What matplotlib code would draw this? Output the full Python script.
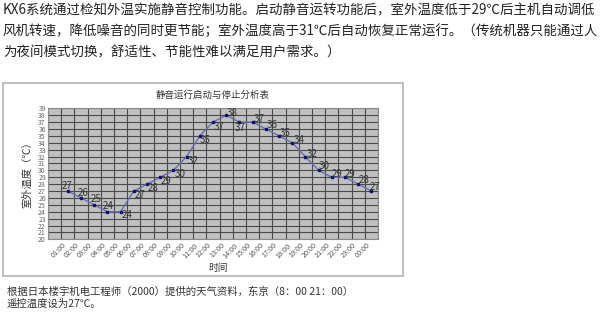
import matplotlib
matplotlib.use("Agg")
import matplotlib.pyplot as plt
from matplotlib.patches import Rectangle
import numpy as np

plt.rcParams['font.family'] = ['Noto Sans CJK SC', 'DejaVu Sans']

# hourly outdoor temperature (Tokyo)
hours = ["01:00", "02:00", "03:00", "04:00", "05:00", "06:00", "07:00", "08:00",
         "09:00", "10:00", "11:00", "12:00", "13:00", "14:00", "15:00", "16:00",
         "17:00", "18:00", "19:00", "20:00", "21:00", "22:00", "23:00", "00:00"]
temps = [27, 26, 25, 24, 24, 27, 28, 29, 30, 32, 35, 37, 38, 37, 37, 36,
         35, 34, 32, 30, 29, 29, 28, 27]
y_ticks = list(range(20, 40))

# where each value label sits relative to its point (pixels, right/up)
label_dx = [-1, 2, 2, 1, 6, 6, 6, 6, 6.5, 6.5, 5, 6, 6, 1, 7, 6, 6, 7, 7, 6, 5, 5, 6, 4]
label_dy = [5, 5, 6, 6, -3.5, -3.5, -4, -4, -3.5, -4, -4.3, -4.5, 2, -5.7, 2.7, 4,
            3, 2.7, 2.7, 4, 3.7, 3.7, 4, 4]

W, H = 602, 313
fig = plt.figure(figsize=(W / 100, H / 100), dpi=100)

intro = [
    "KX6系统通过检知外温实施静音控制功能。启动静音运转功能后，室外温度低于29℃后主机自动调低",
    "风机转速，降低噪音的同时更节能；室外温度高于31℃后自动恢复正常运行。（传统机器只能通过人",
    "为夜间模式切换，舒适性、节能性难以满足用户需求。）",
]
for i, line in enumerate(intro):
    fig.text(3 / W, 1 - (10 + 21 * i) / H, line, fontsize=9.7, color="#222222",
             ha="left", va="center")

# chart frame
fig.patches.append(Rectangle((3 / W, 1 - 276 / H), 400 / W, (276 - 82.5) / H,
                             transform=fig.transFigure, fill=False,
                             edgecolor="#b4b4b4", linewidth=1.2))

ax = fig.add_axes([48 / W, 1 - 239.3 / H, 330 / W, 131 / H])
ax.set_facecolor("#c0c0c0")
x = np.arange(1, len(hours) + 1)
ax.plot(x, temps, color="#6b6bb0", linewidth=1.0, marker="s", markersize=1.5,
        markerfacecolor="#10106e", markeredgecolor="#10106e", zorder=3)
for xi, t, dx, dy in zip(x, temps, label_dx, label_dy):
    ax.annotate(str(t), (xi, t), xytext=(dx, dy), textcoords="offset pixels",
                ha="center", va="center", fontsize=7.0, color="#333333", zorder=4)

ax.set_xlim(-0.5, len(hours) + 0.5)
ax.set_ylim(20, 39)
ax.set_xticks(x)
ax.set_xticklabels(hours, rotation=45, ha="right", va="top", fontsize=5.2,
                   color="#555555")
ax.set_xticks(np.arange(-0.5, len(hours) + 1, 1), minor=True)
ax.set_yticks(y_ticks)
ax.set_yticklabels([str(v) for v in y_ticks], fontsize=5.0, color="#666666")
ax.tick_params(which="both", length=0, pad=1.5)
ax.grid(True, which="minor", axis="x", color="#4a4a4a", linewidth=0.8)
ax.grid(True, which="major", axis="y", color="#4a4a4a", linewidth=0.8)
ax.grid(False, which="major", axis="x")
ax.set_axisbelow(True)
for s in ax.spines.values():
    s.set_color("#8a8a8a")
    s.set_linewidth(0.8)

fig.text(213 / W, 1 - 95 / H, "静音运行启动与停止分析表", fontsize=6.8,
         color="#333333", ha="center", va="center")
fig.text(218 / W, 1 - 268 / H, "时间", fontsize=7.0, color="#333333",
         ha="center", va="center")
fig.text(27 / W, 1 - 172 / H, "室外温度（℃）", fontsize=7.4, color="#333333",
         ha="center", va="center", rotation=90)

notes = [
    "根据日本楼宇机电工程师（2000）提供的天气资料，东京（8：00 21：00）",
    "遥控温度设为27℃。",
]
for i, line in enumerate(notes):
    fig.text(7 / W, 1 - (291.5 + 12 * i) / H, line, fontsize=7.5,
             color="#333333", ha="left", va="center")

fig.savefig("out.png", dpi=100, facecolor="white")
